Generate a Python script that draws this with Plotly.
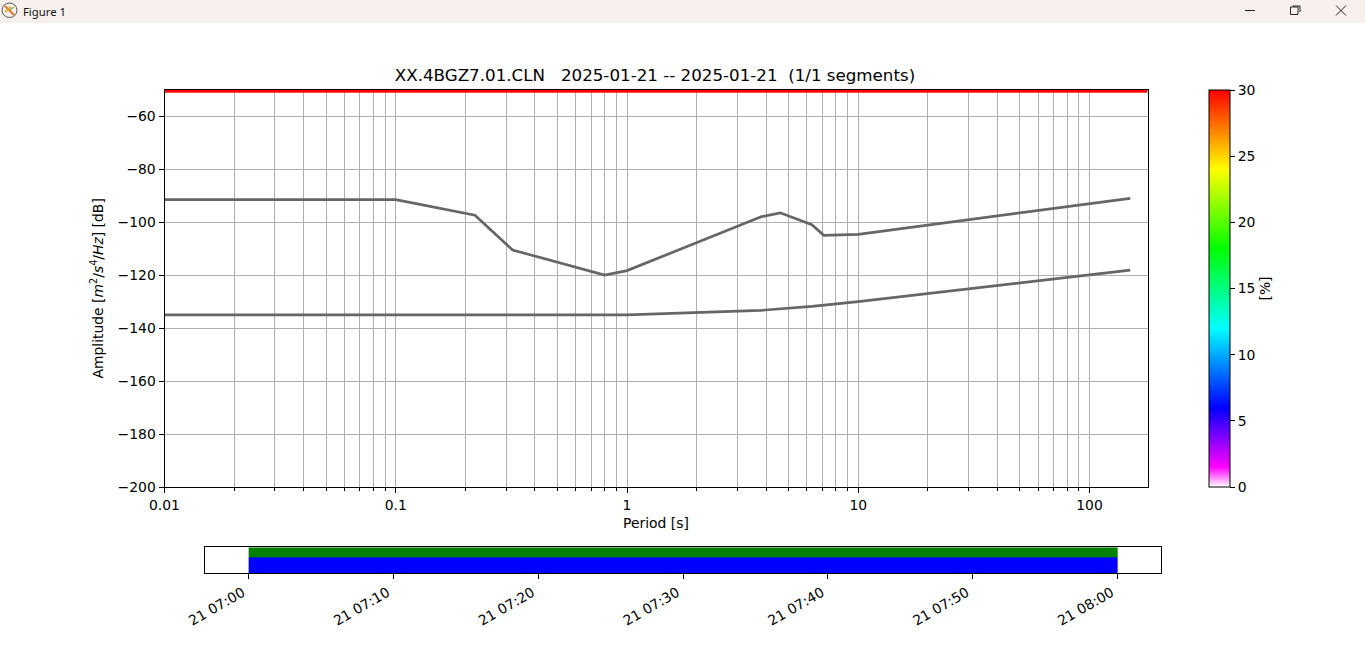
import plotly.graph_objects as go

W, H = 1365, 659

# ---- data ----
high_period = [0.01, 0.1, 0.22, 0.32, 0.8, 1.0, 3.8, 4.6, 6.3, 7.1, 10.0, 150.0]
high_db = [-91.5, -91.5, -97.4, -110.5, -120.0, -118.3, -98.0, -96.5, -101.0, -105.0, -104.6, -91.0]
low_period = [0.01, 1.0, 3.8, 6.3, 10.0, 150.0]
low_db = [-135.0, -135.0, -133.3, -131.8, -130.0, -118.1]

hist_period_edges = [0.01, 178.0]
hist_db_edges = [-51.0, -50.0]
hist_percent = [[30]]

x_major = [0.01, 0.1, 1, 10, 100]
x_major_labels = ["0.01", "0.1", "1", "10", "100"]
x_minor = [m * d for d in (0.01, 0.1, 1, 10, 100) for m in range(2, 10) if m * d < 178]
y_major = [-200, -180, -160, -140, -120, -100, -80, -60]

cbar_stops = [(0.0, "#ffffff"), (0.05, "#ff00ff"), (0.2, "#0000ff"), (0.4, "#00ffff"),
              (0.6, "#00ff00"), (0.8, "#ffff00"), (1.0, "#ff0000")]

avail_edges = ["2025-01-21 07:00:00", "2025-01-21 08:00:00"]
avail_levels = [0.0, 0.615, 1.0]
avail_state = [[0], [1]]
avail_ticks = ["2025-01-21 07:%02d:00" % m for m in (0, 10, 20, 30, 40, 50)] + ["2025-01-21 08:00:00"]
avail_labels = ["21 07:00", "21 07:10", "21 07:20", "21 07:30", "21 07:40", "21 07:50", "21 08:00"]

TITLE = "XX.4BGZ7.01.CLN\u00a0\u00a0\u00a02025-01-21 -- 2025-01-21\u00a0\u00a0(1/1 segments)"
FONT = "DejaVu Sans"
FS = 13.9
GRID = "#b0b0b0"
CURVE = "#666666"


def px(x):
    return x / W


def py(y):
    return 1 - y / H


fig = go.Figure()

fig.add_trace(go.Heatmap(
    x=hist_period_edges, y=hist_db_edges, z=hist_percent,
    zmin=0, zmax=30, colorscale=cbar_stops, hoverinfo="skip",
    colorbar=dict(
        x=px(1209), xanchor="left", xpad=0,
        y=py(487), yanchor="bottom", ypad=0,
        thickness=21, thicknessmode="pixels",
        len=397, lenmode="pixels",
        outlinecolor="black", outlinewidth=1,
        tick0=0, dtick=5, ticks="outside", ticklen=5, tickcolor="black",
        tickfont=dict(family=FONT, size=FS, color="black"),
        title=dict(text="[%]", side="right", font=dict(family=FONT, size=FS, color="black")),
    ),
    xaxis="x", yaxis="y",
))

for xs, ys in ((high_period, high_db), (low_period, low_db)):
    fig.add_trace(go.Scatter(
        x=xs, y=ys, mode="lines", showlegend=False,
        line=dict(color=CURVE, width=2.7),
        xaxis="x", yaxis="y",
    ))

fig.add_trace(go.Heatmap(
    x=avail_edges, y=avail_levels, z=avail_state,
    zmin=0, zmax=1, showscale=False, hoverinfo="skip",
    colorscale=[(0, "#0000ff"), (1, "#008000")],
    xaxis="x2", yaxis="y2",
))

# window title bar
shapes = [
    dict(type="rect", xref="paper", yref="paper", x0=0, x1=1, y0=py(23), y1=1,
         fillcolor="#f7f0ec", line_width=0, layer="below"),
    dict(type="circle", xref="paper", yref="paper", x0=px(2), x1=px(17), y0=py(17.5), y1=py(3),
         line=dict(color="#555555", width=1)),
    dict(type="line", xref="paper", yref="paper", x0=px(5), x1=px(14), y0=py(6), y1=py(15),
         line=dict(color="#e0752a", width=2)),
    dict(type="line", xref="paper", yref="paper", x0=px(5), x1=px(11), y0=py(12), y1=py(7),
         line=dict(color="#e0b030", width=2)),
    dict(type="line", xref="paper", yref="paper", x0=px(10), x1=px(14), y0=py(10), y1=py(7),
         line=dict(color="#8fb06a", width=1.5)),
    # minimise
    dict(type="line", xref="paper", yref="paper", x0=px(1245), x1=px(1255), y0=py(10.5), y1=py(10.5),
         line=dict(color="#222222", width=1)),
    # restore
    dict(type="rect", xref="paper", yref="paper", x0=px(1290.5), x1=px(1298), y0=py(14.5), y1=py(7),
         line=dict(color="#222222", width=1)),
    dict(type="path", xref="paper", yref="paper",
         path=f"M {px(1292.5)} {py(6)} L {px(1300)} {py(6)} L {px(1300)} {py(12)}",
         line=dict(color="#222222", width=1)),
    # close
    dict(type="line", xref="paper", yref="paper", x0=px(1336), x1=px(1346), y0=py(5.5), y1=py(15.5),
         line=dict(color="#222222", width=1)),
    dict(type="line", xref="paper", yref="paper", x0=px(1336), x1=px(1346), y0=py(15.5), y1=py(5.5),
         line=dict(color="#222222", width=1)),
]

fig.update_layout(
    width=W, height=H, autosize=False,
    margin=dict(l=0, r=0, t=0, b=0, pad=0),
    paper_bgcolor="white", plot_bgcolor="white",
    showlegend=False,
    font=dict(family=FONT, size=FS, color="black"),
    title=dict(text=TITLE, x=px(655), xanchor="center", y=py(75), yanchor="middle",
               font=dict(family=FONT, size=16.7, color="black")),
    shapes=shapes,
    annotations=[dict(text="Figure 1", xref="paper", yref="paper", x=px(21), y=py(12),
                      xanchor="left", yanchor="middle", showarrow=False,
                      font=dict(family="Noto Sans", size=11.3, color="#111111"))],
    xaxis=dict(
        type="log", domain=[px(164.5), px(1147.5)], range=[-2, 2.2508],
        tickmode="array", tickvals=x_major, ticktext=x_major_labels,
        ticks="outside", ticklen=5, tickcolor="black", tickwidth=1,
        showgrid=True, gridcolor=GRID, gridwidth=1,
        showline=True, linecolor="black", linewidth=1, mirror=True, zeroline=False,
        minor=dict(tickmode="array", tickvals=x_minor, ticks="outside", ticklen=3,
                   tickcolor="black", showgrid=True, gridcolor=GRID, gridwidth=1),
        title=dict(text="Period [s]", standoff=6, font=dict(family=FONT, size=FS)),
        tickfont=dict(family=FONT, size=FS), automargin=False,
        anchor="y",
    ),
    yaxis=dict(
        domain=[py(487), py(89.7)], range=[-200, -50],
        tickmode="array", tickvals=y_major,
        ticks="outside", ticklen=5, tickcolor="black", tickwidth=1,
        showgrid=True, gridcolor=GRID, gridwidth=1,
        showline=True, linecolor="black", linewidth=1, mirror=True, zeroline=False,
        title=dict(text="Amplitude [<i>m</i><sup>2</sup>/<i>s</i><sup>4</sup>/<i>Hz</i>] [dB]",
                   standoff=10, font=dict(family=FONT, size=FS)),
        tickfont=dict(family=FONT, size=FS), automargin=False,
        anchor="x",
    ),
    xaxis2=dict(
        type="date", domain=[px(205.2), px(1161)],
        range=["2025-01-21 06:57:00", "2025-01-21 08:03:00"],
        tickmode="array", tickvals=avail_ticks, ticktext=avail_labels, tickangle=-30,
        ticks="outside", ticklen=5, tickcolor="black", tickwidth=1,
        ticklabelshift=-6,
        showgrid=False, zeroline=False,
        showline=True, linecolor="black", linewidth=1, mirror=True,
        tickfont=dict(family=FONT, size=FS), automargin=False,
        anchor="y2",
    ),
    yaxis2=dict(
        domain=[py(573.3), py(547.3)], range=[0, 1],
        showticklabels=False, ticks="", showgrid=False, zeroline=False,
        showline=True, linecolor="black", linewidth=1, mirror=True,
        automargin=False, anchor="x2",
    ),
)

fig.write_html("out.html", config={"displayModeBar": False},
               post_script="document.body.style.margin='0';document.body.style.overflow='hidden';")
